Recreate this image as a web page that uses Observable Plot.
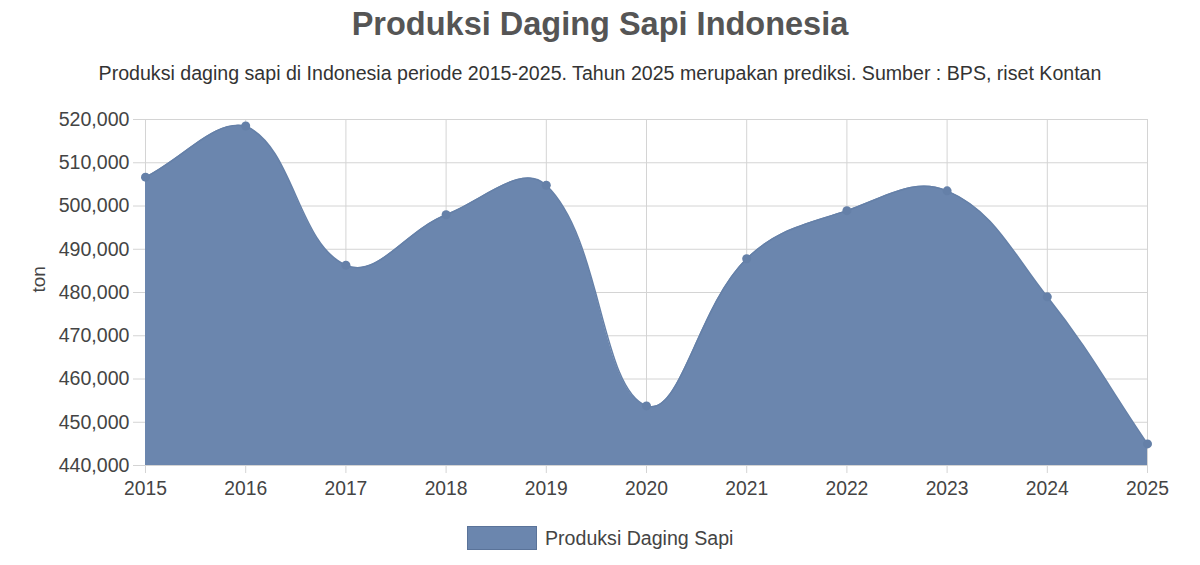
<!DOCTYPE html>
<html>
<head>
<meta charset="utf-8">
<script src="https://cdn.jsdelivr.net/npm/d3@7"></script>
<script src="https://cdn.jsdelivr.net/npm/@observablehq/plot@0.6"></script>
<style>
  html, body { margin: 0; padding: 0; background: #fff; }
  body { width: 1200px; height: 565px; position: relative; overflow: hidden; font-family: "Liberation Sans", Arial, sans-serif; }
  #title { position: absolute; left: 0; width: 1200px; top: 8px; text-align: center; font-size: 32.5px; line-height: 32px; font-weight: bold; color: #555; }
  #subtitle { position: absolute; left: 0; width: 1200px; top: 63px; text-align: center; font-size: 19.6px; line-height: 20px; color: #333; }
  #chart { position: absolute; left: 0; top: 100px; }
  #legend { position: absolute; left: 467px; top: 526px; display: flex; align-items: center; }
  #legend .sw { width: 68px; height: 22px; background: #6b86ae; border: 1px solid #5a7399; }
  #legend .lb { margin-left: 8px; font-size: 19.6px; color: #444; }
</style>
</head>
<body>
<div id="title">Produksi Daging Sapi Indonesia</div>
<div id="subtitle">Produksi daging sapi di Indonesia periode 2015-2025. Tahun 2025 merupakan prediksi. Sumber : BPS, riset Kontan</div>
<div id="chart"></div>
<div id="legend"><div class="sw"></div><div class="lb">Produksi Daging Sapi</div></div>
<script>
const years = [2015, 2016, 2017, 2018, 2019, 2020, 2021, 2022, 2023, 2024, 2025];
const production = [506661, 518484, 486320, 497972, 504802, 453783, 487802, 498923, 503506, 479000, 445000];
const yTicks = [440000, 450000, 460000, 470000, 480000, 490000, 500000, 510000, 520000];
const seriesName = "Produksi Daging Sapi";

const data = years.map((year, i) => ({year, value: production[i]}));

const W = 1200, H = 410, mT = 19, mB = 45, mL = 145, mR = 53;

// Chart.js-style spline (tension 0.4) with control points capped to the plot area
function ChartJsCurve(context) { this._context = context; this._t = 0.4; }
ChartJsCurve.prototype = {
  areaStart() { this._line = 0; },
  areaEnd() { this._line = NaN; },
  lineStart() { this._pts = []; },
  point(x, y) { this._pts.push([+x, +y]); },
  lineEnd() {
    const p = this._pts, n = p.length, c = this._context, t = this._t;
    const cap = (v, lo, hi) => Math.max(lo, Math.min(hi, v));
    if (n) {
      if (this._line) c.lineTo(p[0][0], p[0][1]); else c.moveTo(p[0][0], p[0][1]);
      if (n === 2) c.lineTo(p[1][0], p[1][1]);
      else if (n > 2) {
        const cps = p.map((cur, i) => {
          const prev = p[Math.max(0, i - 1)], next = p[Math.min(n - 1, i + 1)];
          const d01 = Math.hypot(cur[0] - prev[0], cur[1] - prev[1]);
          const d12 = Math.hypot(next[0] - cur[0], next[1] - cur[1]);
          let s01 = d01 / (d01 + d12), s12 = d12 / (d01 + d12);
          if (isNaN(s01)) s01 = 0; if (isNaN(s12)) s12 = 0;
          const fa = t * s01, fb = t * s12;
          return {
            px: cap(cur[0] - fa * (next[0] - prev[0]), mL, W - mR),
            py: cap(cur[1] - fa * (next[1] - prev[1]), mT, H - mB),
            nx: cap(cur[0] + fb * (next[0] - prev[0]), mL, W - mR),
            ny: cap(cur[1] + fb * (next[1] - prev[1]), mT, H - mB)
          };
        });
        for (let i = 1; i < n; i++) c.bezierCurveTo(cps[i - 1].nx, cps[i - 1].ny, cps[i].px, cps[i].py, p[i][0], p[i][1]);
      }
    }
    if (this._line || (this._line !== 0 && n === 1)) c.closePath();
    this._line = 1 - this._line;
  }
};
const chartjsCurve = (context) => new ChartJsCurve(context);

const fillColor = "#6b86ae";
const gridColor = "#d4d4d4";

const chart = Plot.plot({
  width: W,
  height: H,
  marginTop: mT,
  marginBottom: mB,
  marginLeft: mL,
  marginRight: mR,
  style: {fontFamily: "'Liberation Sans', Arial, sans-serif", fontSize: "19px", color: "#444", background: "#fff", overflow: "visible"},
  x: {domain: [2015, 2025]},
  y: {domain: [440000, 520000]},
  marks: [
    Plot.gridX(years, {stroke: gridColor, strokeOpacity: 1}),
    Plot.gridY(yTicks, {stroke: gridColor, strokeOpacity: 1}),
    Plot.areaY(data, {x: "year", y1: 440000, y2: "value", fill: fillColor, curve: chartjsCurve}),
    Plot.line(data, {x: "year", y: "value", stroke: "#6580a8", strokeWidth: 1.5, curve: chartjsCurve}),
    Plot.dot(data, {x: "year", y: "value", r: 4.5, fill: "#6580a8"}),
    Plot.axisY(yTicks, {tickFormat: d3.format(","), tickSize: 12, tickPadding: 4, stroke: gridColor, fill: "#444", label: null, fontSize: 19.6}),
    Plot.axisX(years, {tickFormat: d3.format("d"), tickSize: 8, tickPadding: 8, stroke: gridColor, fill: "#444", label: null, fontSize: 19.3}),
    Plot.text(["ton"], {frameAnchor: "left", rotate: -90, dx: -107, fill: "#444", fontSize: 19})
  ]
});
document.getElementById("chart").appendChild(chart);
</script>
</body>
</html>
